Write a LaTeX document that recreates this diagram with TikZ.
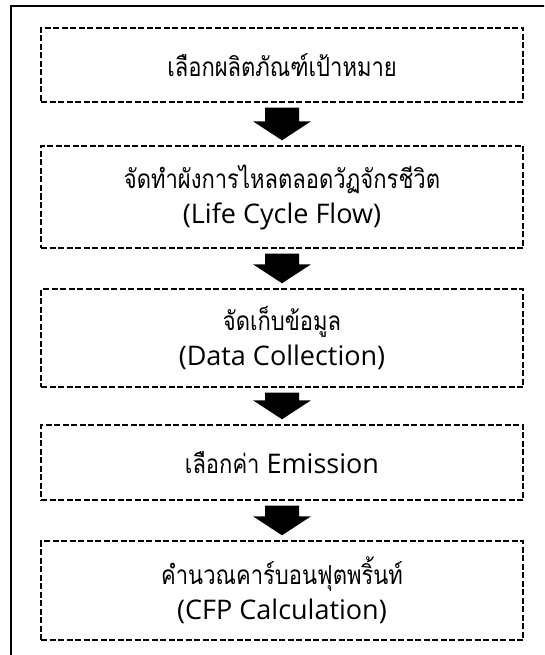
\documentclass[tikz,border=0pt]{standalone}
\usepackage{fontspec}
\setmainfont{Open Sans}
\newfontfamily\thaifont[Script=Thai,Scale=0.97,FakeStretch=0.84]{Loma}
\usetikzlibrary{calc}
\tikzset{
  stepbox/.style={draw=black, line width=1.4pt, dash pattern=on 6pt off 2.5pt,
    minimum width=482pt, inner sep=0pt, align=center,
    font=\fontsize{27}{35}\selectfont},
  outerframe/.style={draw=black, line width=2pt},
}
\newcommand\blockarrow[2]{%
  \fill[black] let \p1=($(#1.south)+(0,-5pt)$), \p2=($(#2.north)+(0,5pt)$) in
    (\x1-17pt,\y1) -- (\x1+17pt,\y1) -- (\x1+17pt,\y2+19pt) -- (\x1+29pt,\y2+19pt)
    -- (\x1,\y2) -- (\x1-29pt,\y2+19pt) -- (\x1-17pt,\y2+19pt) -- cycle;}
\begin{document}
\begin{tikzpicture}[x=1pt,y=1pt]
\clip (0,0) rectangle (544,-655);
\fill[white] (0,0) rectangle (544,-655);
\draw[outerframe] (10.5,-6.5) rectangle (560,-670);
\node[stepbox, minimum height=74pt] (b1) at (282,-65) {\thaifont เลือกผลิตภัณฑ์เป้าหมาย};
\node[stepbox, minimum height=102pt] (b2) at (282,-197) {{\thaifont จัดทำผังการไหลตลอดวัฏจักรชีวิต}\\(Life Cycle Flow)};
\node[stepbox, minimum height=98pt] (b3) at (282,-338) {{\thaifont จัดเก็บข้อมูล}\\(Data Collection)};
\node[stepbox, minimum height=75pt] (b4) at (282,-462.5) {{\thaifont เลือกค่า} Emission};
\node[stepbox, minimum height=99pt] (b5) at (282,-590.5) {{\thaifont คำนวณคาร์บอนฟุตพริ้นท์}\\(CFP Calculation)};
\blockarrow{b1}{b2}
\blockarrow{b2}{b3}
\blockarrow{b3}{b4}
\blockarrow{b4}{b5}
\end{tikzpicture}
\end{document}
